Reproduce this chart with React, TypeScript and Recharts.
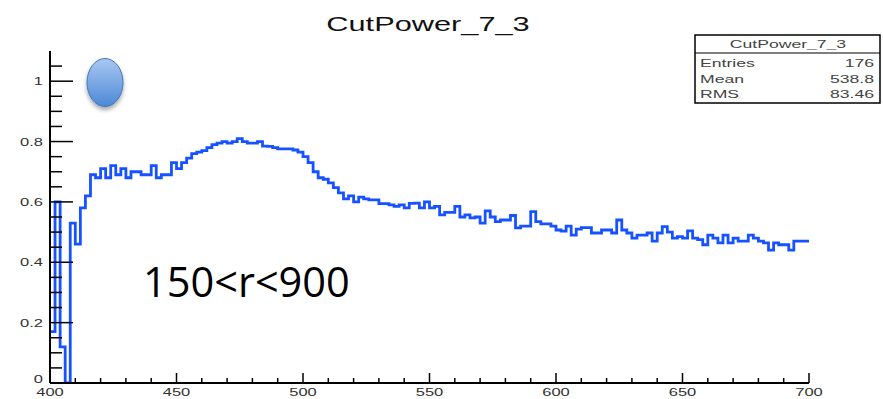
import React from 'react';
import { LineChart, Line, XAxis, YAxis } from 'recharts';

const chartTitle = 'CutPower_7_3';
const annotation = '150<r<900';
const statsRows: [string, string][] = [
  ['Entries', '176'],
  ['Mean', '538.8'],
  ['RMS', '83.46'],
];

const binStart = 400;
const binWidth = 2;
const values = [
  0.17, 0.6, 0.12, 0.0, 0.53, 0.46, 0.58, 0.62, 0.69, 0.68,
  0.71, 0.68, 0.72, 0.69, 0.71, 0.68, 0.7, 0.7, 0.69, 0.69,
  0.72, 0.68, 0.69, 0.69, 0.73, 0.71, 0.73, 0.745, 0.76, 0.765,
  0.77, 0.78, 0.79, 0.795, 0.8, 0.795, 0.8, 0.81, 0.8, 0.795,
  0.795, 0.8, 0.785, 0.784, 0.78, 0.776, 0.776, 0.776, 0.772, 0.765,
  0.75, 0.73, 0.7, 0.68, 0.675, 0.663, 0.647, 0.63, 0.61, 0.62,
  0.6, 0.616, 0.61, 0.607, 0.607, 0.594, 0.594, 0.59, 0.585, 0.59,
  0.58, 0.595, 0.596, 0.58, 0.6, 0.58, 0.585, 0.557, 0.565, 0.565,
  0.585, 0.55, 0.557, 0.547, 0.55, 0.53, 0.57, 0.55, 0.535, 0.54,
  0.54, 0.555, 0.514, 0.52, 0.52, 0.568, 0.535, 0.527, 0.527, 0.52,
  0.507, 0.503, 0.52, 0.49, 0.51, 0.515, 0.515, 0.497, 0.497, 0.507,
  0.507, 0.497, 0.54, 0.507, 0.497, 0.48, 0.49, 0.49, 0.497, 0.47,
  0.497, 0.518, 0.5, 0.48, 0.485, 0.48, 0.504, 0.48, 0.475, 0.458,
  0.49, 0.48, 0.464, 0.49, 0.464, 0.48, 0.47, 0.47, 0.49, 0.48,
  0.47, 0.464, 0.44, 0.464, 0.458, 0.458, 0.44, 0.47, 0.47, 0.47,
];

const xTicks = [
  400, 410, 420, 430, 440, 450, 460, 470, 480, 490, 500, 510, 520, 530, 540, 550,
  560, 570, 580, 590, 600, 610, 620, 630, 640, 650, 660, 670, 680, 690, 700,
];
const xMajorLabels = [400, 450, 500, 550, 600, 650, 700];
const yTicks = [
  0, 0.05, 0.1, 0.15, 0.2, 0.25, 0.3, 0.35, 0.4, 0.45, 0.5, 0.55, 0.6, 0.65, 0.7,
  0.75, 0.8, 0.85, 0.9, 0.95, 1.0, 1.05,
];
const yMajorLabels: Record<string, string> = {
  '0': '0', '0.2': '0.2', '0.4': '0.4', '0.6': '0.6', '0.8': '0.8', '1': '1',
};

const histData = values.map((v, i) => ({ x: binStart + binWidth * i, v }));
histData.push({ x: binStart + binWidth * values.length, v: values[values.length - 1] });

const ROOT_FONT = '"Liberation Sans", Arial, Helvetica, sans-serif';
const TEXT_STRETCH = 1.5;

const XTick = (props: any) => {
  const { x, y, payload } = props;
  const val = payload.value as number;
  const major = xMajorLabels.includes(val);
  return (
    <g>
      <line x1={x} x2={x} y1={y} y2={y - (major ? 10 : 5)} stroke="#000" strokeWidth={1.5} />
      {major && (
        <text
          transform={`translate(${x},${y + 13}) scale(${TEXT_STRETCH},1)`}
          textAnchor="middle"
          fontSize={11}
          fill="#333"
          fontFamily={ROOT_FONT}
        >
          {val}
        </text>
      )}
    </g>
  );
};

const YTick = (props: any) => {
  const { x, y, payload } = props;
  const val = payload.value as number;
  const key = String(Math.round(val * 100) / 100);
  const label = yMajorLabels[key];
  const major = label !== undefined;
  return (
    <g>
      <line x1={x} x2={x + (major ? 23 : 12)} y1={y} y2={y} stroke="#000" strokeWidth={1.5} />
      {major && (
        <text
          transform={`translate(${x - 7},${y + (val === 0 ? 0 : 4)}) scale(${TEXT_STRETCH},1)`}
          textAnchor="end"
          fontSize={11}
          fill="#333"
          fontFamily={ROOT_FONT}
        >
          {label}
        </text>
      )}
    </g>
  );
};

const W = 883;
const H = 399;

export default function App() {
  const axisLine = { stroke: '#000', strokeWidth: 2 };
  return (
    <div style={{ position: 'absolute', left: 0, top: 0, width: W, height: H, background: '#fff' }}>
      <LineChart
        width={W}
        height={H}
        data={histData}
        margin={{ top: 51, right: 74, bottom: 0, left: 0 }}
      >
        <XAxis
          dataKey="x"
          type="number"
          domain={[400, 700]}
          allowDataOverflow
          ticks={xTicks}
          interval={0}
          tick={<XTick />}
          tickSize={0}
          tickMargin={0}
          tickLine={false}
          height={16}
          axisLine={axisLine}
        />
        <XAxis
          xAxisId="top"
          orientation="top"
          type="number"
          domain={[400, 700]}
          tick={false}
          tickLine={false}
          height={0}
          axisLine={axisLine}
        />
        <YAxis
          type="number"
          domain={[0, 1.1]}
          allowDataOverflow
          ticks={yTicks}
          interval={0}
          tick={<YTick />}
          tickSize={0}
          tickMargin={0}
          tickLine={false}
          width={50}
          axisLine={axisLine}
        />
        <YAxis
          yAxisId="right"
          orientation="right"
          type="number"
          domain={[0, 1.1]}
          tick={false}
          tickLine={false}
          width={0}
          axisLine={axisLine}
        />
        <Line
          type="stepAfter"
          dataKey="v"
          stroke="#1652ff"
          strokeWidth={2.8}
          dot={false}
          isAnimationActive={false}
        />
      </LineChart>
      <svg
        width={W}
        height={H}
        style={{ position: 'absolute', left: 0, top: 0, pointerEvents: 'none' }}
      >
        <defs>
          <linearGradient id="ovalFill" x1="0" y1="0" x2="0" y2="1">
            <stop offset="0" stopColor="#a9c8f2" />
            <stop offset="1" stopColor="#4d88d6" />
          </linearGradient>
          <filter id="ovalShadow" x="-50%" y="-50%" width="200%" height="200%">
            <feDropShadow dx="0" dy="3" stdDeviation="2" floodColor="#000" floodOpacity="0.35" />
          </filter>
        </defs>
        <text
          transform={`translate(428,31) scale(${TEXT_STRETCH},1)`}
          textAnchor="middle"
          fontSize={20.5}
          fill="#111"
          fontFamily={ROOT_FONT}
        >
          {chartTitle}
        </text>
        <rect x={695} y={35} width={185} height={68} fill="#fff" stroke="#000" strokeWidth={1.5} />
        <line x1={695} x2={880} y1={53} y2={53} stroke="#000" strokeWidth={1.2} />
        <text
          transform={`translate(788,48) scale(1.6,1)`}
          textAnchor="middle"
          fontSize={11}
          fill="#444"
          fontFamily={ROOT_FONT}
        >
          {chartTitle}
        </text>
        {statsRows.map(([k, v], i) => (
          <g key={k}>
            <text
              transform={`translate(700,${67 + i * 15.5}) scale(1.6,1)`}
              textAnchor="start"
              fontSize={11}
              fill="#444"
              fontFamily={ROOT_FONT}
            >
              {k}
            </text>
            <text
              transform={`translate(874,${67 + i * 15.5}) scale(1.6,1)`}
              textAnchor="end"
              fontSize={11}
              fill="#444"
              fontFamily={ROOT_FONT}
            >
              {v}
            </text>
          </g>
        ))}
        <ellipse
          cx={105}
          cy={82.5}
          rx={18}
          ry={24}
          fill="url(#ovalFill)"
          stroke="#3f77bb"
          strokeWidth={1}
          filter="url(#ovalShadow)"
        />
        <text x={143} y={297} fontSize={41.5} fill="#000" fontFamily='"Open Sans", sans-serif'>
          {annotation}
        </text>
      </svg>
    </div>
  );
}
